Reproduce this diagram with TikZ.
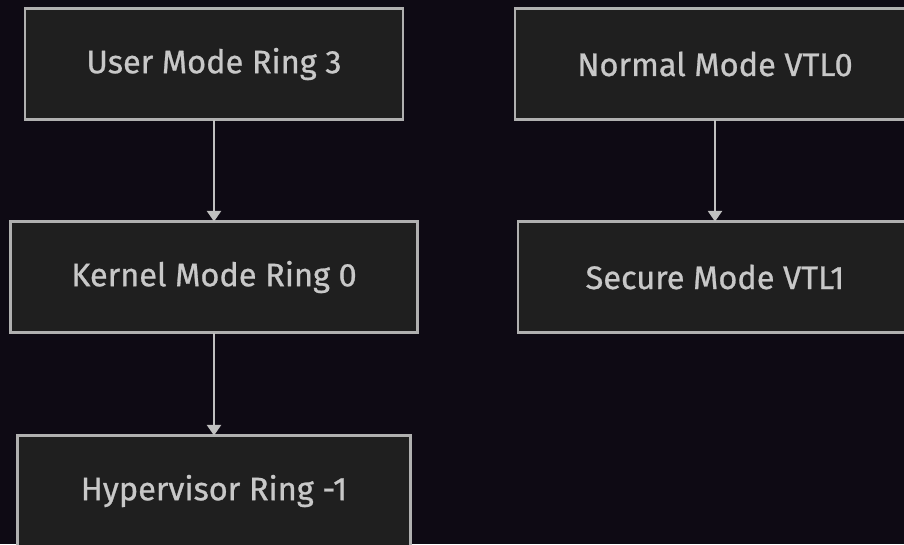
\documentclass[tikz,border=0pt]{standalone}
\usepackage{fontspec}
\setmainfont{Fira Sans}[FakeBold=0.8]
\usepackage{xcolor}
\usetikzlibrary{positioning,arrows.meta}

\definecolor{pagebg}{HTML}{0E0A14}
\definecolor{boxfill}{HTML}{1F1F1F}
\definecolor{boxline}{HTML}{B0B0B0}
\definecolor{boxtext}{HTML}{C8C8C8}

\begin{document}
\begin{tikzpicture}[node distance=2.04cm,
    modebox/.style={draw=boxline, line width=1.4pt, fill=boxfill, text=boxtext,
        minimum height=2.22cm, outer sep=0pt, font=\fontsize{18.5}{22}\selectfont},
    flow/.style={draw=boxline!80!white, line width=1.1pt, -{Triangle[width=8pt,length=6pt]}}]
    \fill [pagebg] (0,0) rectangle (18.08,-10.88);
    \useasboundingbox (0,0) rectangle (18.08,-10.88);
    \clip (0,0) rectangle (18.08,-10.88);

    % privilege rings
    \node [modebox, minimum width=7.56cm] (user) at (4.28,-1.28) {User Mode Ring 3};
    \node [modebox, minimum width=8.14cm, below=of user] (kernel) {Kernel Mode Ring 0};
    \node [modebox, minimum width=7.86cm, below=2.06cm of kernel] (hyper) {Hypervisor Ring -1};

    % trust levels
    \node [modebox, minimum width=8.0cm] (normal) at (14.3,-1.28) {Normal Mode VTL0};
    \node [modebox, minimum width=7.88cm, below=of normal] (secure) {Secure Mode VTL1};

    \draw [flow] (user) -- (kernel);
    \draw [flow] (kernel) -- (hyper);
    \draw [flow] (normal) -- (secure);
\end{tikzpicture}
\end{document}
